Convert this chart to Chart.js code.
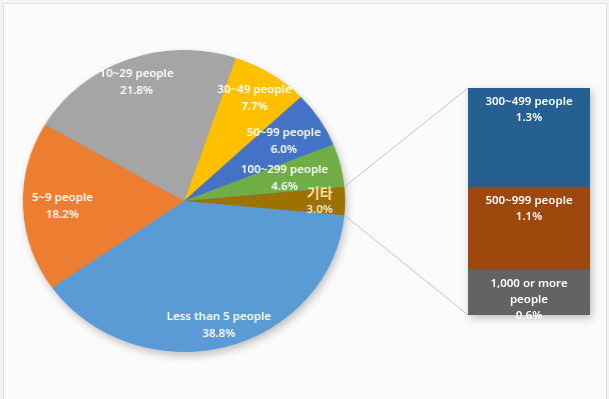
<!DOCTYPE html>
<html>
<head>
<meta charset="utf-8">
<script src="https://cdn.jsdelivr.net/npm/chart.js@4.4.0/dist/chart.umd.min.js"></script>
<style>
    html, body { margin: 0; padding: 0; }
    body { width: 609px; height: 399px; background: #f3f3f3; position: relative; overflow: hidden; }
    #frame { position: absolute; left: 3px; top: 3px; width: 602px; height: 400px; border: 1px solid #dedede; background: #fbfbfb; }
    #pie { position: absolute; left: 23px; top: 40px; transform: scaleX(1.067); transform-origin: 50% 50%; }
    #bar { position: absolute; left: 0; top: 0; }
</style>
</head>
<body>
<div id="frame"></div>
<canvas id="pie" width="322" height="322"></canvas>
<canvas id="bar" width="609" height="399"></canvas>
<script>
// fatias da pizza (sentido horário, começando logo depois de "기타")
const pieLabels = ['Less than 5 people', '5~9 people', '10~29 people', '30~49 people', '50~99 people', '100~299 people', '기타'];
const pieValues = [38.8, 18.2, 21.8, 7.7, 6.0, 4.6, 3.0];
const pieColors = ['#5b9bd5', '#ed7d31', '#a5a5a5', '#ffc000', '#4472c4', '#70ad47', '#9e7104'];

// detalhamento de "기타"
const barLabels = ['300~499 people', '500~999 people', '1,000 or more people'];
const barValues = [1.3, 1.1, 0.6];
const barColors = ['#265f92', '#9e480e', '#636363'];

// posição radial de cada rótulo (fração do raio)
const labelRadius = [0.845, 0.756, 0.845, 0.811, 0.736, 0.642, 0.842];
const STRETCH = 1.067;
const FONT = '600 11.5px "Noto Sans", "Noto Sans CJK KR", sans-serif';

const total = pieValues.reduce((a, b) => a + b, 0);
const otherIdx = pieValues.length - 1;
const fmt = v => v.toFixed(1) + '%';

// sombra suave atrás da pizza
const pieShadow = {
    id: 'pieShadow',
    beforeDatasetsDraw(chart) {
        const arc = chart.getDatasetMeta(0).data[0];
        const ctx = chart.ctx;
        ctx.save();
        ctx.shadowColor = 'rgba(0,0,0,0.25)';
        ctx.shadowBlur = 9;
        ctx.shadowOffsetX = 2;
        ctx.shadowOffsetY = 4;
        ctx.fillStyle = '#5b9bd5';
        ctx.beginPath();
        ctx.arc(arc.x, arc.y, arc.outerRadius - 0.5, 0, Math.PI * 2);
        ctx.fill();
        ctx.restore();
    }
};

// rótulos dentro das fatias
const pieText = {
    id: 'pieText',
    afterDatasetsDraw(chart) {
        const ctx = chart.ctx;
        chart.getDatasetMeta(0).data.forEach((arc, i) => {
            const mid = (arc.startAngle + arc.endAngle) / 2;
            const r = arc.outerRadius * labelRadius[i];
            const x = arc.x + Math.cos(mid) * r;
            const y = arc.y + Math.sin(mid) * r;
            ctx.save();
            ctx.translate(x, y);
            ctx.scale(1 / STRETCH, 1);
            ctx.font = FONT;
            ctx.textAlign = 'center';
            ctx.textBaseline = 'middle';
            const isOther = i === otherIdx;
            ctx.fillStyle = isOther ? '#f7e9a6' : '#ffffff';
            if (isOther) ctx.font = '600 14px "Noto Sans CJK KR", "Noto Sans", sans-serif';
            ctx.fillText(pieLabels[i], 0, -8);
            ctx.font = FONT;
            ctx.fillStyle = isOther ? '#f1ecd8' : '#ffffff';
            ctx.fillText(fmt(pieValues[i]), 0, 9);
            ctx.restore();
        });
    }
};

const pieChart = new Chart(document.getElementById('pie'), {
    type: 'pie',
    data: {
        labels: pieLabels,
        datasets: [{
            data: pieValues,
            backgroundColor: pieColors,
            borderWidth: 0,
            hoverOffset: 0
        }]
    },
    options: {
        responsive: false,
        animation: false,
        events: [],
        rotation: 90 + pieValues[otherIdx] / total * 180,
        layout: { padding: 10 },
        plugins: {
            legend: { display: false },
            tooltip: { enabled: false }
        }
    },
    plugins: [pieShadow, pieText]
});

function wrapText(ctx, text, maxW) {
    const words = text.split(' ');
    const lines = [];
    let line = '';
    words.forEach(w => {
        const test = line ? line + ' ' + w : w;
        if (ctx.measureText(test).width > maxW && line) {
            lines.push(line);
            line = w;
        } else {
            line = test;
        }
    });
    lines.push(line);
    return lines;
}

// linhas de ligação, sombra e rótulos da barra
const barExtras = {
    id: 'barExtras',
    beforeDatasetsDraw(chart) {
        const ctx = chart.ctx;
        const area = chart.chartArea;

        // ligação com a fatia "기타"
        const arc = pieChart.getDatasetMeta(0).data[otherIdx];
        const cv = pieChart.canvas;
        const w = cv.offsetWidth;
        const toPage = a => ({
            x: cv.offsetLeft + w / 2 + (arc.x + Math.cos(a) * arc.outerRadius - w / 2) * STRETCH,
            y: cv.offsetTop + arc.y + Math.sin(a) * arc.outerRadius
        });
        const p1 = toPage(arc.startAngle);
        const p2 = toPage(arc.endAngle);
        ctx.save();
        ctx.strokeStyle = '#c4c4c4';
        ctx.lineWidth = 1;
        ctx.beginPath();
        ctx.moveTo(p1.x, p1.y);
        ctx.lineTo(area.left, area.top);
        ctx.moveTo(p2.x, p2.y);
        ctx.lineTo(area.left, area.bottom);
        ctx.stroke();

        ctx.shadowColor = 'rgba(0,0,0,0.25)';
        ctx.shadowBlur = 8;
        ctx.shadowOffsetX = 2;
        ctx.shadowOffsetY = 3;
        ctx.fillStyle = '#636363';
        ctx.fillRect(area.left, area.top, area.right - area.left, area.bottom - area.top);
        ctx.restore();
    },
    afterDatasetsDraw(chart) {
        const ctx = chart.ctx;
        ctx.save();
        ctx.font = FONT;
        ctx.textAlign = 'center';
        ctx.textBaseline = 'middle';
        ctx.fillStyle = '#ffffff';
        chart.data.datasets.forEach((ds, i) => {
            const bar = chart.getDatasetMeta(i).data[0];
            const top = Math.min(bar.y, bar.base);
            const lines = wrapText(ctx, barLabels[i], bar.width - 22);
            lines.push(fmt(barValues[i]));
            lines.forEach((t, j) => ctx.fillText(t, bar.x, top + 14 + j * 16));
        });
        ctx.restore();
    }
};

const barChart = new Chart(document.getElementById('bar'), {
    type: 'bar',
    data: {
        labels: [''],
        datasets: barLabels.map((lab, i) => ({
            label: lab,
            data: [barValues[i]],
            backgroundColor: barColors[i],
            borderWidth: 0,
            barPercentage: 1,
            categoryPercentage: 1
        }))
    },
    options: {
        responsive: false,
        animation: false,
        events: [],
        layout: { padding: { left: 468, right: 19, top: 88, bottom: 84 } },
        scales: {
            x: { display: false, stacked: true },
            y: {
                display: false,
                stacked: true,
                reverse: true,
                min: 0,
                max: barValues.reduce((a, b) => a + b, 0)
            }
        },
        plugins: {
            legend: { display: false },
            tooltip: { enabled: false }
        }
    },
    plugins: [barExtras]
});
</script>
</body>
</html>
